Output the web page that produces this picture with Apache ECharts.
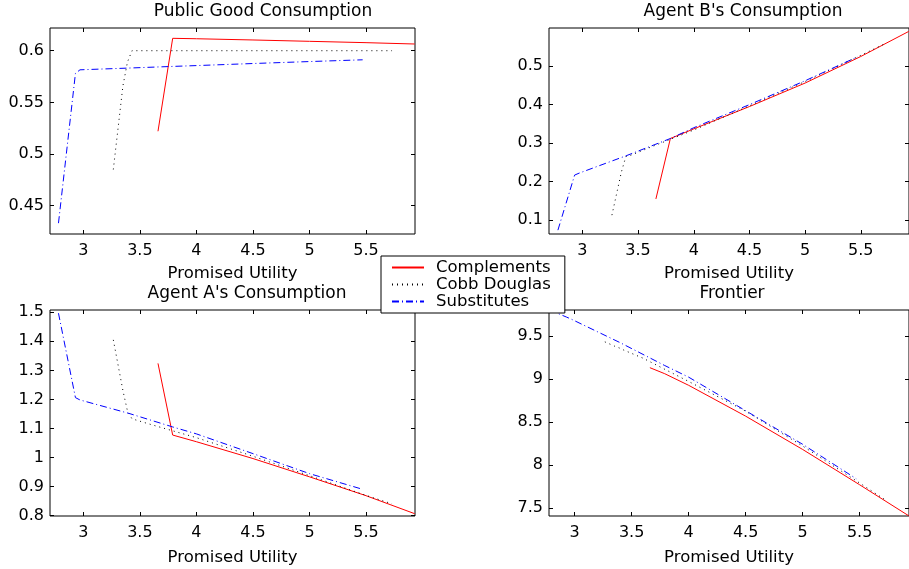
<!DOCTYPE html>
<html>
<head>
<meta charset="utf-8">
<script src="https://cdn.jsdelivr.net/npm/echarts@6/dist/echarts.min.js"></script>
<style>
  html, body { margin: 0; padding: 0; background: #fff; }
  #main { width: 909px; height: 569px; }
</style>
</head>
<body>
<div id="main"></div>
<script>
// promised utility grid for each case
var utilComp = [3.66, 3.79, 4.0, 4.5, 5.0, 5.5, 5.93];
var utilCobb = [3.265, 3.35, 3.39, 3.43, 3.6, 4.0, 4.5, 5.0, 5.5, 5.73];
var utilSubs = [2.78, 2.93, 2.97, 3.4, 3.79, 4.0, 4.5, 5.0, 5.47];

// public good consumption
var publicComp = [0.522, 0.612, 0.6116, 0.6104, 0.6091, 0.6078, 0.6065];
var publicCobb = [0.485, 0.566, 0.589, 0.600, 0.600, 0.600, 0.600, 0.600, 0.600, 0.600];
var publicSubs = [0.433, 0.578, 0.5815, 0.5832, 0.5848, 0.5856, 0.5876, 0.5895, 0.5912];

// agent B's consumption
var agentBComp = [0.155, 0.312, 0.337, 0.395, 0.456, 0.525, 0.59];
var agentBCobb = [0.113, 0.225, 0.265, 0.268, 0.288, 0.334, 0.397, 0.460, 0.528, 0.56];
var agentBSubs = [0.074, 0.217, 0.222, 0.268, 0.312, 0.340, 0.400, 0.462, 0.524];

// agent A's consumption
var agentAComp = [1.324, 1.077, 1.054, 0.996, 0.933, 0.868, 0.806];
var agentACobb = [1.405, 1.23, 1.16, 1.133, 1.113, 1.068, 1.004, 0.937, 0.869, 0.84];
var agentASubs = [1.497, 1.206, 1.198, 1.152, 1.105, 1.081, 1.013, 0.944, 0.89];

// frontier
var frontComp = [9.13, 9.06, 8.925, 8.567, 8.18, 7.77, 7.41];
var frontCobb = [9.43, 9.38, 9.36, 9.335, 9.24, 8.97, 8.625, 8.22, 7.79, 7.59];
var frontSubs = [9.80, 9.717, 9.694, 9.42, 9.155, 9.02, 8.63, 8.24, 7.84];

// ticks
var xTicks = [3, 3.5, 4, 4.5, 5, 5.5];
var yTicksPublic = [0.45, 0.5, 0.55, 0.6];
var yTicksB = [0.1, 0.2, 0.3, 0.4, 0.5];
var yTicksA = [0.8, 0.9, 1, 1.1, 1.2, 1.3, 1.4, 1.5];
var yTicksFront = [7.5, 8, 8.5, 9, 9.5];

var seriesNames = ['Complements', 'Cobb Douglas', 'Substitutes'];

var FONT = 'DejaVu Sans';

var panels = [
    {title: 'Public Good Consumption', tx: 263, ty: 12, left: 50, top: 28, xmin: 2.705, ymin: 0.4225, ymax: 0.622,
     yTicks: yTicksPublic, ys: [publicComp, publicCobb, publicSubs], gap: 31},
    {title: "Agent B's Consumption", tx: 743, ty: 12, left: 549, top: 28, xmin: 2.70, ymin: 0.064, ymax: 0.599,
     yTicks: yTicksB, ys: [agentBComp, agentBCobb, agentBSubs], gap: 31},
    {title: "Agent A's Consumption", tx: 247, ty: 294, left: 50, top: 310, xmin: 2.705, ymin: 0.798, ymax: 1.508,
     yTicks: yTicksA, ys: [agentAComp, agentACobb, agentASubs], gap: 33},
    {title: 'Frontier', tx: 732, ty: 294, left: 549, top: 310, xmin: 2.775, ymin: 7.407, ymax: 9.80,
     yTicks: yTicksFront, ys: [frontComp, frontCobb, frontSubs], gap: 33}
];

var xs = [utilComp, utilCobb, utilSubs];
var lineStyles = [
    {color: '#ff0000', width: 1, type: 'solid'},
    {color: '#000000', width: 1, type: [1, 4]},
    {color: '#0000ff', width: 1, type: [7, 3, 1, 3]}
];

var grid = [], xAxis = [], yAxis = [], series = [], graphic = [];

panels.forEach(function (p, i) {
    grid.push({
        left: p.left, top: p.top, width: 365, height: 206,
        show: true, borderColor: '#000', borderWidth: 1, backgroundColor: '#fff'
    });
    var xBase = {
        type: 'value', gridIndex: i, min: p.xmin, max: 5.933,
        axisLine: {show: false}, splitLine: {show: false},
        axisTick: {inside: true, length: 4, customValues: xTicks, lineStyle: {color: '#000'}}
    };
    xAxis.push(Object.assign({}, xBase, {
        position: 'bottom',
        name: 'Promised Utility', nameLocation: 'middle', nameGap: p.gap,
        nameTextStyle: {fontFamily: FONT, fontSize: 16.5, color: '#000'},
        axisLabel: {customValues: xTicks, margin: 9, fontFamily: FONT, fontSize: 16, color: '#000',
                    formatter: function (v) { return String(v); }}
    }));
    xAxis.push(Object.assign({}, xBase, {position: 'top', axisLabel: {show: false}}));
    var yBase = {
        type: 'value', gridIndex: i, min: p.ymin, max: p.ymax,
        axisLine: {show: false}, splitLine: {show: false},
        axisTick: {inside: true, length: 4, customValues: p.yTicks, lineStyle: {color: '#000'}}
    };
    yAxis.push(Object.assign({}, yBase, {
        position: 'left',
        axisLabel: {customValues: p.yTicks, margin: 6, fontFamily: FONT, fontSize: 16, color: '#000',
                    formatter: function (v) { return String(v); }}
    }));
    yAxis.push(Object.assign({}, yBase, {position: 'right', axisLabel: {show: false}}));

    for (var k = 0; k < 3; k++) {
        series.push({
            name: seriesNames[k],
            type: 'line',
            xAxisIndex: 2 * i,
            yAxisIndex: 2 * i,
            symbol: 'none',
            lineStyle: lineStyles[k],
            itemStyle: {color: lineStyles[k].color},
            data: xs[k].map(function (x, j) { return [x, p.ys[k][j]]; })
        });
    }

    graphic.push({
        type: 'text', x: p.tx, y: p.ty,
        style: {text: p.title, fill: '#000', fontFamily: FONT, fontSize: 17,
                align: 'center', verticalAlign: 'middle'}
    });
});

var myChart = echarts.init(document.getElementById('main'));
myChart.setOption({
    animation: false,
    backgroundColor: '#fff',
    grid: grid,
    xAxis: xAxis,
    yAxis: yAxis,
    graphic: graphic,
    legend: {
        data: seriesNames,
        orient: 'vertical',
        left: 381, top: 256,
        backgroundColor: '#fff',
        borderColor: '#000', borderWidth: 1,
        padding: [3, 14, 3, 10],
        itemGap: 0, itemWidth: 32, itemHeight: 8,
        itemStyle: {opacity: 0},
        textStyle: {fontFamily: FONT, fontSize: 16.5, color: '#000', lineHeight: 15.5, padding: [0, 0, 0, 7]}
    },
    series: series
});
</script>
</body>
</html>
